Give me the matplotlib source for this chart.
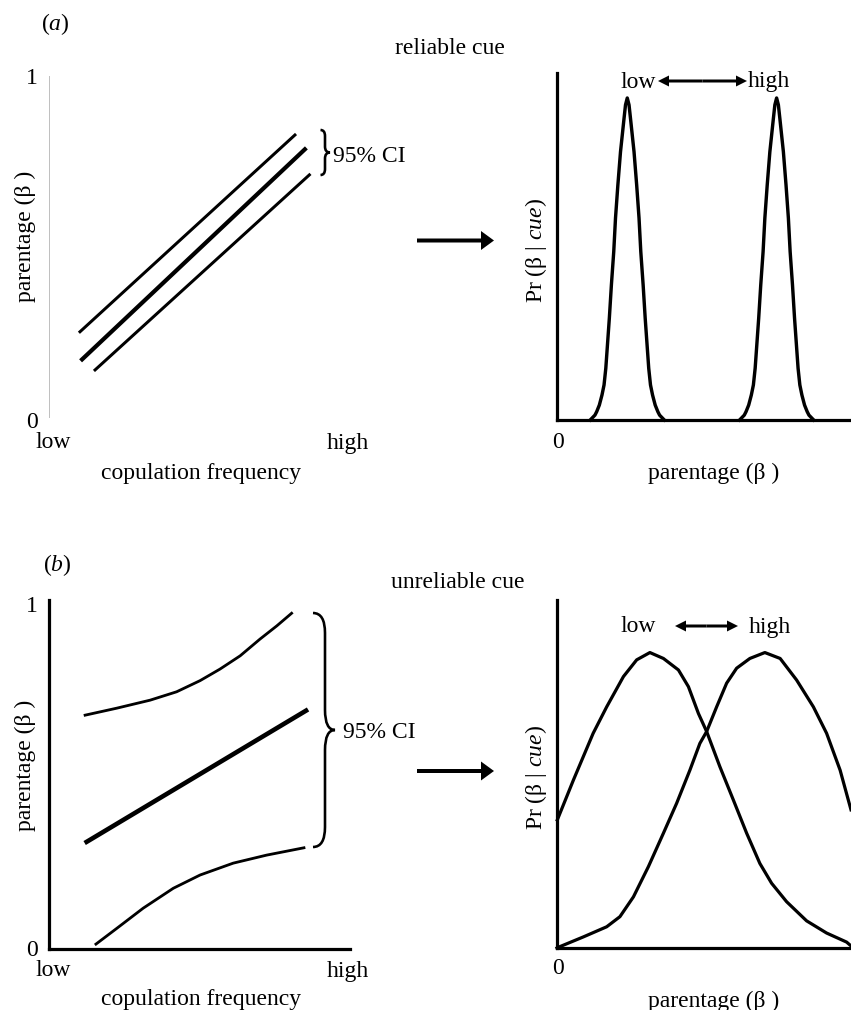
import matplotlib
matplotlib.use('Agg')
import matplotlib.pyplot as plt
from matplotlib.patches import FancyArrow, PathPatch
from matplotlib.path import Path

plt.rcParams['font.family'] = ['Liberation Serif', 'DejaVu Serif']
plt.rcParams['mathtext.fontset'] = 'custom'
plt.rcParams['mathtext.rm'] = 'Liberation Serif'
plt.rcParams['mathtext.it'] = 'Liberation Serif:italic'

W, H = 851, 1010

# (a) reliable cue: regression line and 95% CI band
a_mid_x = [0.110, 0.850]
a_mid_y = [0.169, 0.785]
a_up_x = [0.103, 0.817]
a_up_y = [0.250, 0.827]
a_lo_x = [0.153, 0.865]
a_lo_y = [0.138, 0.710]

# (a) posterior Pr(beta | cue) for low and high copulation frequency
peak_y = [0.0, 0.014, 0.024, 0.043, 0.072, 0.101, 0.149, 0.197, 0.293, 0.389, 0.485,
          0.582, 0.677, 0.773, 0.869, 0.908, 0.928, 0.908, 0.869, 0.773, 0.677, 0.582,
          0.485, 0.389, 0.293, 0.197, 0.149, 0.101, 0.072, 0.043, 0.024, 0.014, 0.0]
peak_low_x = [0.113, 0.129, 0.135, 0.144, 0.153, 0.160, 0.166, 0.170, 0.178, 0.185, 0.193,
              0.199, 0.207, 0.216, 0.228, 0.233, 0.239, 0.245, 0.250, 0.262, 0.271, 0.279,
              0.285, 0.293, 0.300, 0.308, 0.312, 0.318, 0.325, 0.334, 0.343, 0.349, 0.365]
peak_high_x = [0.621, 0.637, 0.643, 0.652, 0.661, 0.668, 0.674, 0.678, 0.686, 0.693, 0.701,
               0.707, 0.715, 0.724, 0.736, 0.741, 0.747, 0.753, 0.758, 0.770, 0.779, 0.787,
               0.793, 0.801, 0.808, 0.816, 0.820, 0.826, 0.833, 0.842, 0.851, 0.857, 0.873]

# (b) unreliable cue: regression line and wide 95% CI band
b_mid_x = [0.125, 0.854]
b_mid_y = [0.307, 0.683]
b_up_x = [0.120, 0.225, 0.336, 0.424, 0.502, 0.568, 0.635, 0.701, 0.757, 0.806]
b_up_y = [0.670, 0.690, 0.713, 0.737, 0.769, 0.802, 0.840, 0.888, 0.926, 0.962]
b_lo_x = [0.156, 0.225, 0.313, 0.413, 0.502, 0.612, 0.723, 0.847]
b_lo_y = [0.014, 0.059, 0.117, 0.174, 0.212, 0.246, 0.269, 0.290]

# (b) posterior curves
low_b_x = [0.001, 0.056, 0.123, 0.169, 0.226, 0.271, 0.316, 0.362, 0.413, 0.447, 0.481,
           0.509, 0.554, 0.600, 0.645, 0.690, 0.730, 0.781, 0.849, 0.917, 0.985, 1.0]
low_b_y = [0.368, 0.483, 0.617, 0.693, 0.780, 0.828, 0.849, 0.832, 0.799, 0.751, 0.674,
           0.622, 0.521, 0.425, 0.330, 0.243, 0.186, 0.133, 0.078, 0.043, 0.017, 0.006]
high_b_x = [0.0, 0.010, 0.090, 0.169, 0.214, 0.260, 0.311, 0.362, 0.407, 0.452, 0.486, 0.509,
            0.543, 0.577, 0.611, 0.656, 0.707, 0.759, 0.815, 0.872, 0.917, 0.963, 1.0]
high_b_y = [0.0, 0.004, 0.032, 0.061, 0.090, 0.147, 0.234, 0.330, 0.416, 0.511, 0.588, 0.622,
            0.693, 0.761, 0.804, 0.832, 0.849, 0.832, 0.770, 0.693, 0.617, 0.511, 0.397]

PX = 0.72  # points per pixel at dpi 100
FS = 17


def make_axes(fig, x0, x1, y0, y1):
    # pixel box (top-left origin) -> axes
    ax = fig.add_axes([x0 / W, 1 - y1 / H, (x1 - x0) / W, (y1 - y0) / H])
    ax.set_xlim(0, 1)
    ax.set_ylim(0, 1)
    ax.set_xticks([])
    ax.set_yticks([])
    ax.patch.set_alpha(0)
    for s in ['top', 'right']:
        ax.spines[s].set_visible(False)
    return ax


def brace(ax, x_end, x_mid, x_tip, ytop, ybot, r_end, r_mid, lw):
    ymid = (ytop + ybot) / 2
    verts = [(x_end, ytop), (x_mid, ytop), (x_mid, ytop + r_end),
             (x_mid, ymid - r_mid),
             (x_mid, ymid), (x_tip, ymid),
             (x_mid, ymid), (x_mid, ymid + r_mid),
             (x_mid, ybot - r_end),
             (x_mid, ybot), (x_end, ybot)]
    codes = [Path.MOVETO, Path.CURVE3, Path.CURVE3, Path.LINETO,
             Path.CURVE3, Path.CURVE3, Path.CURVE3, Path.CURVE3,
             Path.LINETO, Path.CURVE3, Path.CURVE3]
    ax.add_patch(PathPatch(Path(verts, codes), fill=False, lw=lw * PX, color='black'))


def big_arrow(ax, x0, x1, y):
    ax.add_patch(FancyArrow(x0, y, x1 - x0, 0, width=4, head_width=19, head_length=13,
                            length_includes_head=True, color='black', lw=0))


def double_arrow(ax, x0, x1, y):
    xm = (x0 + x1) / 2
    for a, b in [(xm, x0), (xm, x1)]:
        ax.add_patch(FancyArrow(a, y, b - a, 0, width=3, head_width=11, head_length=11,
                                length_includes_head=True, color='black', lw=0))


fig = plt.figure(figsize=(W / 100, H / 100), dpi=100)

# ---- (a) left
ax1 = make_axes(fig, 49, 350, 76, 417)
ax1.spines['bottom'].set_visible(False)
ax1.spines['left'].set_color('#c0c0c0')
ax1.spines['left'].set_linewidth(1.0 * PX)
ax1.plot(a_up_x, a_up_y, color='black', lw=3 * PX, clip_on=False)
ax1.plot(a_mid_x, a_mid_y, color='black', lw=4.2 * PX, clip_on=False)
ax1.plot(a_lo_x, a_lo_y, color='black', lw=3 * PX, clip_on=False)

# ---- (a) right
ax2 = make_axes(fig, 557, 851, 73, 420)
for s in ['left', 'bottom']:
    ax2.spines[s].set_linewidth(3.2 * PX)
ax2.plot(peak_low_x, peak_y, color='black', lw=3.4 * PX, clip_on=False, solid_joinstyle='round')
ax2.plot(peak_high_x, peak_y, color='black', lw=3.4 * PX, clip_on=False, solid_joinstyle='round')

# ---- (b) left
ax3 = make_axes(fig, 49, 350, 600, 949)
for s in ['left', 'bottom']:
    ax3.spines[s].set_linewidth(3.2 * PX)
ax3.plot(b_up_x, b_up_y, color='black', lw=2.8 * PX, clip_on=False, solid_joinstyle='round')
ax3.plot(b_mid_x, b_mid_y, color='black', lw=4.6 * PX, clip_on=False)
ax3.plot(b_lo_x, b_lo_y, color='black', lw=2.8 * PX, clip_on=False, solid_joinstyle='round')

# ---- (b) right
ax4 = make_axes(fig, 557, 851, 600, 948)
for s in ['left', 'bottom']:
    ax4.spines[s].set_linewidth(3.2 * PX)
ax4.plot(low_b_x, low_b_y, color='black', lw=3.2 * PX, clip_on=False, solid_joinstyle='round')
ax4.plot(high_b_x, high_b_y, color='black', lw=3.2 * PX, clip_on=False, solid_joinstyle='round')

# ---- overlay in pixel coordinates for labels and annotations
ov = fig.add_axes([0, 0, 1, 1])
ov.set_xlim(0, W)
ov.set_ylim(H, 0)
ov.axis('off')
ov.patch.set_alpha(0)


def t(x, y, s, ha='center', rot=0):
    dy = 0 if rot else 2
    ov.text(x, y + dy, s, ha=ha, va='center', fontsize=FS, rotation=rot, rotation_mode='anchor')


beta_lab = 'parentage (\u03b2 )'
pr_lab = 'Pr (\u03b2 | $\\mathit{cue}$)'

t(55, 22, '($\\mathit{a}$)')
t(450, 47, 'reliable cue')
t(32, 77, '1')
t(32, 420, '0')
t(53, 441, 'low')
t(348, 441, 'high')
t(201, 471, 'copulation frequency')
t(25, 236, beta_lab, rot=90)
brace(ov, 320.5, 325, 330, 130, 175, 6, 6, 2.6)
t(333, 154, '95% CI', ha='left')
big_arrow(ov, 417, 494, 240.5)
t(536, 250, pr_lab, rot=90)
t(558, 441, '0')
t(714, 471, beta_lab)
t(656, 80, 'low', ha='right')
t(748, 80, 'high', ha='left')
double_arrow(ov, 658, 747, 81)

t(57, 563, '($\\mathit{b}$)')
t(458, 581, 'unreliable cue')
t(32, 604, '1')
t(32, 948, '0')
t(53, 969, 'low')
t(348, 969, 'high')
t(201, 998, 'copulation frequency')
t(25, 765, beta_lab, rot=90)
brace(ov, 313, 325, 335, 613, 847, 20, 20, 2.6)
t(343, 731, '95% CI', ha='left')
big_arrow(ov, 417, 494, 771)
t(536, 777, pr_lab, rot=90)
t(558, 966, '0')
t(714, 999, beta_lab)
t(638, 625, 'low')
t(770, 625, 'high')
double_arrow(ov, 675, 738, 626)

fig.savefig('out.png', dpi=100)
